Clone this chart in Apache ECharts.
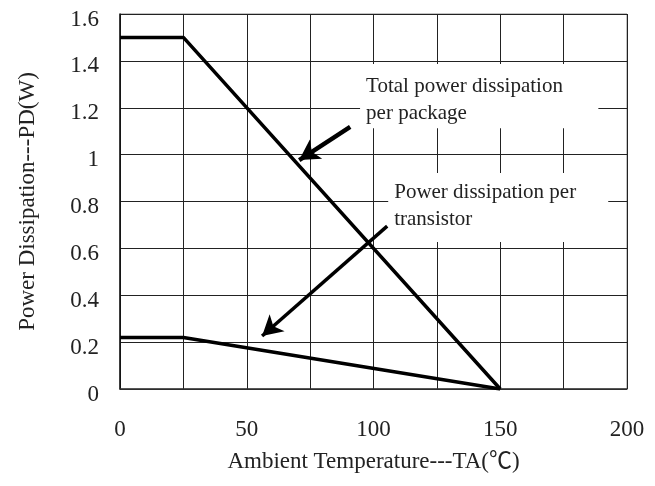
<!DOCTYPE html>
<html>
<head>
<meta charset="utf-8">
<script src="https://cdn.jsdelivr.net/npm/echarts@6/dist/echarts.min.js"></script>
<style>
html,body{margin:0;padding:0;background:#fff;}
#c{width:655px;height:486px;}
</style>
</head>
<body>
<div id="c"></div>
<script>
// Data
const totalPackage = [[0, 1.5], [25, 1.5], [150, 0]];
const perTransistor = [[0, 0.22], [25, 0.22], [150, 0]];
const xTitle = 'Ambient Temperature---TA(\u2103)';
const yTitle = 'Power Dissipation---PD(W)';
const note1 = 'Total power dissipation\nper package';
const note2 = 'Power dissipation per\ntransistor';
// annotation boxes [x1,y1,x2,y2] in data units, arrows [tailX,tailY,tipX,tipY]
const box1 = [94.7, 1.387, 188.7, 1.113];
const box2 = [105.8, 0.922, 192.6, 0.627];
const arrow1 = [90.8, 1.118, 70.7, 0.977];
const arrow2 = [105.4, 0.695, 56.05, 0.226];

const FONT = "'Liberation Serif','Times New Roman','Noto Sans CJK TC',serif";
const chart = echarts.init(document.getElementById('c'));
chart.setOption({
  animation: false,
  backgroundColor: '#fff',
  grid: {left: 120, right: 28, top: 14, bottom: 97, show: true, borderColor: '#888', borderWidth: 1},
  xAxis: {
    type: 'value', min: 0, max: 200, interval: 25,
    name: xTitle, nameLocation: 'middle', nameGap: 61,
    nameTextStyle: {fontFamily: FONT, fontSize: 23, color: '#222'},
    axisLine: {lineStyle: {color: '#333', width: 1.5}},
    axisTick: {show: false},
    axisLabel: {fontFamily: FONT, fontSize: 23, color: '#222', margin: 29,
      formatter: v => (v % 50 === 0 ? String(v) : '')},
    splitLine: {show: true, lineStyle: {color: '#222', width: 1}}
  },
  yAxis: {
    type: 'value', min: 0, max: 1.6, interval: 0.2,
    name: yTitle, nameLocation: 'middle', nameGap: 81,
    nameTextStyle: {fontFamily: FONT, fontSize: 23, color: '#222'},
    axisLine: {show: true, lineStyle: {color: '#111', width: 1.5}},
    axisTick: {show: false},
    axisLabel: {fontFamily: FONT, fontSize: 23, color: '#222', margin: 21,
      verticalAlign: 'top', lineHeight: 11,
      formatter: v => String(Math.round(v * 10) / 10)},
    splitLine: {show: true, lineStyle: {color: '#222', width: 1}}
  },
  series: [
    {
      type: 'line', data: totalPackage, showSymbol: false, symbol: 'none',
      lineStyle: {color: '#000', width: 3.5}, z: 3,
      markArea: {
        silent: true,
        itemStyle: {color: '#fff'},
        label: {show: true, fontFamily: FONT, fontSize: 21, lineHeight: 27, color: '#222'},
        data: [
          [{coord: [box1[0], box1[1]], label: {formatter: note1, position: [6, 9]}}, {coord: [box1[2], box1[3]]}],
          [{coord: [box2[0], box2[1]], label: {formatter: note2, position: [6, 6]}}, {coord: [box2[2], box2[3]]}]
        ]
      },
      markLine: {
        silent: true, symbol: ['none', 'arrow'], symbolSize: [17, 20],
        label: {show: false},
        lineStyle: {color: '#000', type: 'solid'},
        data: [
          [{coord: [arrow1[0], arrow1[1]], lineStyle: {width: 4.5, color: '#000', type: 'solid'}}, {coord: [arrow1[2], arrow1[3]]}],
          [{coord: [arrow2[0], arrow2[1]], lineStyle: {width: 3.5, color: '#000', type: 'solid'}}, {coord: [arrow2[2], arrow2[3]]}]
        ]
      }
    },
    {
      type: 'line', data: perTransistor, showSymbol: false, symbol: 'none',
      lineStyle: {color: '#000', width: 3.5}, z: 3
    }
  ]
});
</script>
</body>
</html>
